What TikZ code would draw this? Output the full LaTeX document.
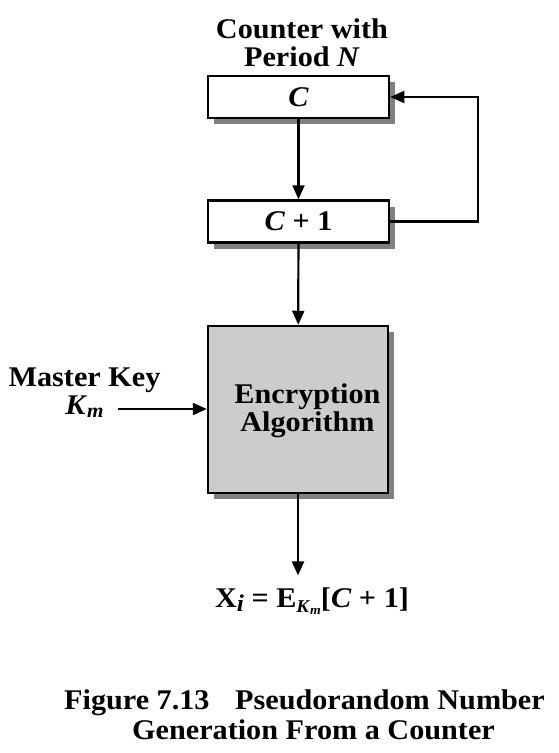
\documentclass[tikz,border=0pt]{standalone}
\usepackage{fontspec}
\setmainfont[FakeStretch=1.06]{Liberation Serif}
\usetikzlibrary{arrows.meta,shadows}
\definecolor{shadowgray}{HTML}{808080}
\definecolor{encgray}{HTML}{CCCCCC}
\begin{document}
\begin{tikzpicture}[x=1pt,y=-1pt,
  every node/.style={font=\fontsize{28.5}{28}\selectfont\bfseries},
  box/.style={draw, line width=2.5pt, fill=white, inner sep=0pt,
    minimum width=181pt, minimum height=42pt,
    drop shadow={shadow xshift=6pt, shadow yshift=-6pt, fill=shadowgray, opacity=1}},
  encbox/.style={draw, line width=2.5pt, fill=encgray, inner sep=0pt,
    minimum width=180pt, minimum height=167pt,
    drop shadow={shadow xshift=6pt, shadow yshift=-6pt, fill=shadowgray, opacity=1}},
  arr/.style={line width=2.2pt, -{Triangle[length=14pt,width=12pt]}},
  txt/.style={inner sep=0pt, align=center}]
\useasboundingbox (0,0) rectangle (559,753);
\node[txt] (title) at (302,43) {Counter with\\Period \textit{N}};
\node[box] (c) at (298.5,97) {\textit{C}};
\node[box] (c1) at (298.5,221.5) {\textit{C} + 1};
\node[encbox] (enc) at (298,409.5) {};
\node[txt] (enctxt) at (307.5,411) {Encryption\\Algorithm};
\node[txt] (key) at (84.5,393) {Master Key\\\textit{K}\raisebox{-3pt}{\fontsize{20}{20}\selectfont\textit{m}}\hspace{10pt}};
\coordinate (keyin) at (118,409);
\node[txt] (out) at (312,601) {X\raisebox{-4pt}{\fontsize{24}{24}\selectfont\textit{i}} = E\raisebox{-5pt}{\fontsize{18}{18}\selectfont\textit{K}\raisebox{-2pt}{\fontsize{13}{13}\selectfont\textit{m}}}[\textit{C} + 1]};
\node[txt] (cap1) at (304.5,703) {Figure 7.13\hspace{18pt} Pseudorandom Number};
\node[txt] (cap2) at (313.5,730) {Generation From a Counter};
\draw[arr] (c) -- (c1);
\draw[arr] (c1) -- (enc);
\draw[arr] (c1.east) -- ++(88,0) |- (c.east);
\draw[arr] (keyin) -- (enc.west |- keyin);
\draw[arr, shorten >=12pt] (enc.south) -- (enc.south |- out.north);
\end{tikzpicture}
\end{document}
